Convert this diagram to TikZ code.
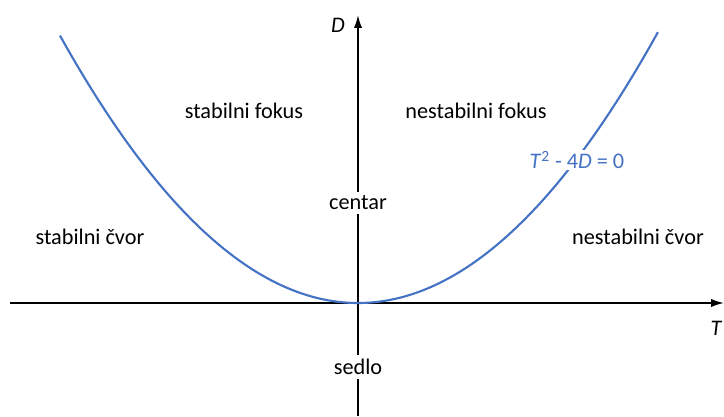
\documentclass[tikz,border=0pt]{standalone}
\usepackage{fontspec}
\setmainfont{Carlito}
\usetikzlibrary{arrows.meta}
\definecolor{curvecol}{RGB}{68,114,196}

\begin{document}
\begin{tikzpicture}[x=0.03cm,y=-0.03cm,
  lbl/.style={font=\fontsize{19}{22}\selectfont},
  axis/.style={line width=1.4pt,-{Latex[length=11pt,width=7pt]}}]
\useasboundingbox (0,0) rectangle (724,416);
% axes
\coordinate (xstart) at (10,303);
\coordinate (xend) at (724,303);
\coordinate (ystart) at (358,416);
\coordinate (yend) at (358,15);
\draw[axis] (xstart) -- (xend);
\draw[axis] (ystart) -- (yend);
\node[lbl,font=\fontsize{19}{22}\selectfont\itshape] (dlab) at (338,25) {D};
\node[lbl,font=\fontsize{19}{22}\selectfont\itshape,inner sep=1pt] (tlab) at (716,328) {T};
% parabola T^2 - 4D = 0
\draw[curvecol,line width=1.8pt] plot[domain=-2.98:3.0,samples=100,smooth] ({358+100*\x},{303-30.11*\x*\x});
\node[lbl,text=curvecol,fill=white,inner sep=1pt] (disc) at (577,160) {\textit{T}\textsuperscript{2} - 4\textit{D} = 0};
% regions
\node[lbl] (sfok) at (244,111) {stabilni fokus};
\node[lbl] (nfok) at (476,111) {nestabilni fokus};
\node[lbl,fill=white] (cent) at (358,203) {centar};
\node[lbl] (scvor) at (90,237) {stabilni čvor};
\node[lbl] (ncvor) at (638,237) {nestabilni čvor};
\node[lbl,fill=white] (sedlo) at (358,367) {sedlo};
\end{tikzpicture}
\end{document}
